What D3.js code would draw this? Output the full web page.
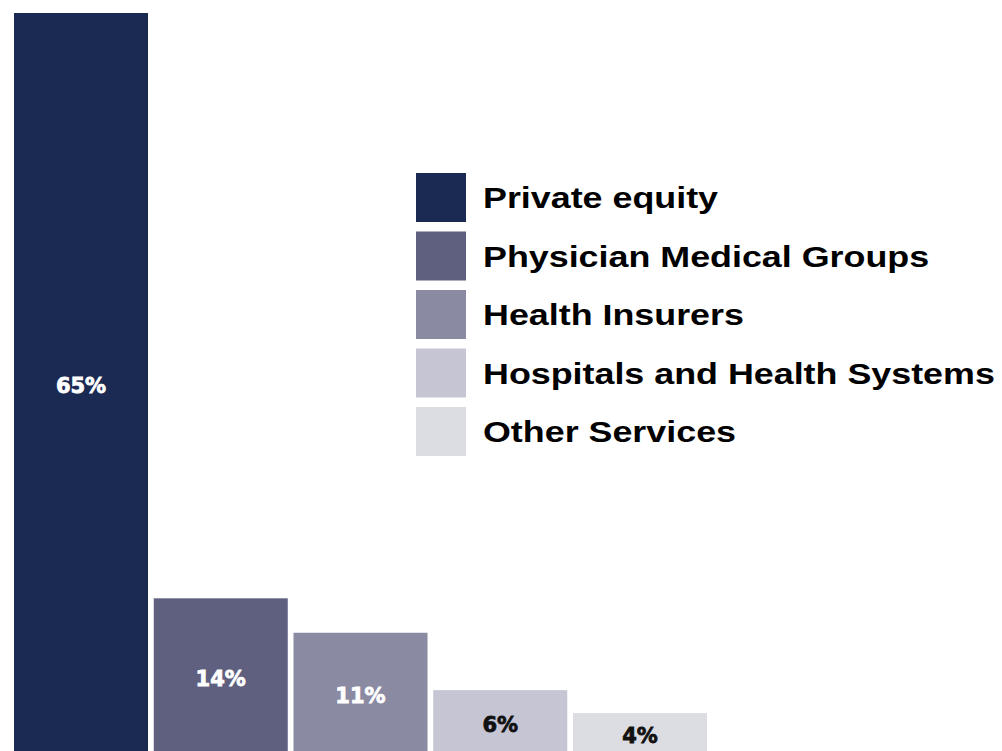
<!DOCTYPE html>
<html>
<head>
<meta charset="utf-8">
<script src="https://cdn.jsdelivr.net/npm/d3@7"></script>
<style>
  html, body { margin: 0; padding: 0; background: #fff; }
  svg { display: block; }
</style>
</head>
<body>
<div id="chart"></div>
<script>
const categories = ['Private equity', 'Physician Medical Groups', 'Health Insurers', 'Hospitals and Health Systems', 'Other Services'];
const values = [65, 14, 11, 6, 4];
const colors = ['#1b2a52', '#5f6080', '#8a8aa3', '#c5c5d4', '#dcdce3'];
const labelColors = ['#fff', '#fff', '#fff', '#111', '#111'];

const width = 1002,
    height = 751;

const svg = d3.select('#chart')
    .append('svg')
    .attr('width', width)
    .attr('height', height);

// baseline sits a little below the visible area, like the source crop
let x = d3.scaleBand()
    .domain(categories)
    .range([14, 707])
    .paddingInner(0.041)
    .paddingOuter(0);

let y = d3.scaleLinear()
    .domain([0, 65])
    .range([759, 13]);

const bars = svg.append('g').selectAll('g')
    .data(values)
    .join('g');

bars.append('rect')
    .attr('x', function(d, i) { return x(categories[i]); })
    .attr('y', function(d) { return y(d); })
    .attr('width', x.bandwidth())
    .attr('height', function(d) { return y(0) - y(d); })
    .attr('fill', function(d, i) { return colors[i]; });

bars.append('text')
    .attr('x', function(d, i) { return x(categories[i]) + x.bandwidth() / 2; })
    .attr('y', function(d) { return (y(d) + y(0)) / 2; })
    .attr('dy', '0.35em')
    .attr('text-anchor', 'middle')
    .attr('font-family', 'DejaVu Sans, sans-serif')
    .attr('font-weight', 'bold')
    .attr('font-size', 21)
    .attr('fill', function(d, i) { return labelColors[i]; })
    .attr('stroke', function(d, i) { return labelColors[i]; })
    .attr('stroke-width', 0.8)
    .text(function(d) { return d + '%'; });

// legend
const legend = svg.append('g')
    .attr('transform', 'translate(416,173)');

const items = legend.selectAll('g')
    .data(categories)
    .join('g')
    .attr('transform', function(d, i) { return 'translate(0,' + (i * 58.5) + ')'; });

items.append('rect')
    .attr('width', 50)
    .attr('height', 49)
    .attr('fill', function(d, i) { return colors[i]; });

const labels = items.append('text')
    .attr('y', 25)
    .attr('dy', '0.35em')
    .attr('font-family', 'Liberation Sans, Arial, sans-serif')
    .attr('font-weight', 'bold')
    .attr('font-size', 29)
    .attr('fill', '#000')
    .text(function(d) { return d; });

// the source type is set wider than Arial; stretch to the longest label's width
let longest = d3.max(labels.nodes(), function(n) { return n.getComputedTextLength(); });
let stretch = 512 / longest;
labels.attr('transform', 'translate(67,0) scale(' + stretch + ',1)');
</script>
</body>
</html>
